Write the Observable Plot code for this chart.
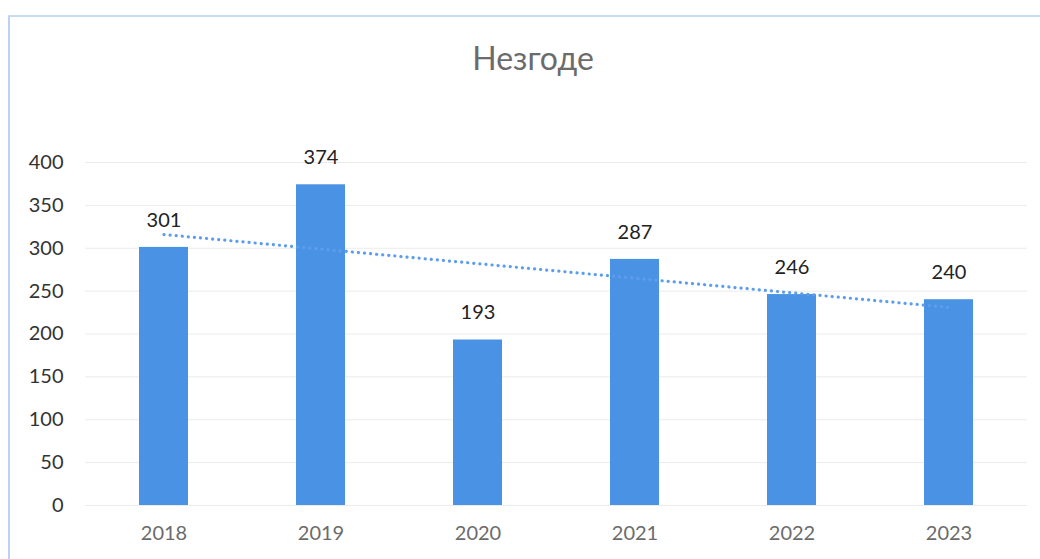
<!DOCTYPE html>
<html>
<head>
<meta charset="utf-8">
<script src="https://cdn.jsdelivr.net/npm/d3@7"></script>
<script src="https://cdn.jsdelivr.net/npm/@observablehq/plot@0.6"></script>
<style>
  html, body { margin: 0; padding: 0; background: #fff; width: 1040px; height: 559px; overflow: hidden; }
  #frame { position: absolute; left: 8px; top: 15px; width: 1040px; height: 560px; border-left: 2px solid #bcd2ef; border-top: 2px solid #c9dbf2; box-sizing: border-box; }
  #title { position: absolute; left: 0; top: 38px; width: 1066px; text-align: center; font-family: Lato, "Open Sans", sans-serif; font-size: 32px; color: #6b6b6b; }
  #chart { position: absolute; left: 0; top: 130px; }
</style>
</head>
<body>
<div id="frame"></div>
<div id="title">Незгоде</div>
<div id="chart"></div>
<script>
const years = ["2018", "2019", "2020", "2021", "2022", "2023"];
const values = [301, 374, 193, 287, 246, 240];
const yTicks = [0, 50, 100, 150, 200, 250, 300, 350, 400];

const data = years.map((year, i) => ({year, value: values[i]}));

// Linear trendline (least squares over category index), as in the spreadsheet chart
const mx = d3.mean(values, (_, i) => i);
const my = d3.mean(values);
const slope = d3.sum(values, (v, i) => (i - mx) * (v - my)) / d3.sum(values, (_, i) => (i - mx) ** 2);
const trend = years.map((year, i) => ({year, value: my + slope * (i - mx)}));

const chart = Plot.plot({
  width: 1040,
  height: 429,
  marginTop: 32,
  marginBottom: 54,
  marginLeft: 85,
  marginRight: 13,
  style: {fontFamily: "Lato, 'Open Sans', sans-serif", fontSize: "20px", background: "transparent"},
  x: {domain: years, paddingInner: 0.69, paddingOuter: 0.345, label: null},
  y: {domain: [0, 400], label: null},
  marks: [
    Plot.gridY(yTicks, {stroke: "#ebebeb", strokeOpacity: 1}),
    Plot.barY(data, {x: "year", y: "value", fill: "#4a93e4"}),
    Plot.line(trend, {x: "year", y: "value", stroke: "#5c9ded", strokeWidth: 3.2, strokeDasharray: "0.1 6", strokeLinecap: "round"}),
    Plot.text(data, {x: "year", y: "value", text: d => String(d.value), dy: -27, fontSize: 20, fill: "#222"}),
    Plot.axisY(yTicks, {tickSize: 0, tickPadding: 22, fill: "#333", fontSize: 20, label: null}),
    Plot.axisX({tickSize: 0, tickPadding: 20, fill: "#6b6b6b", fontSize: 20, label: null})
  ]
});
document.getElementById("chart").appendChild(chart);
</script>
</body>
</html>
